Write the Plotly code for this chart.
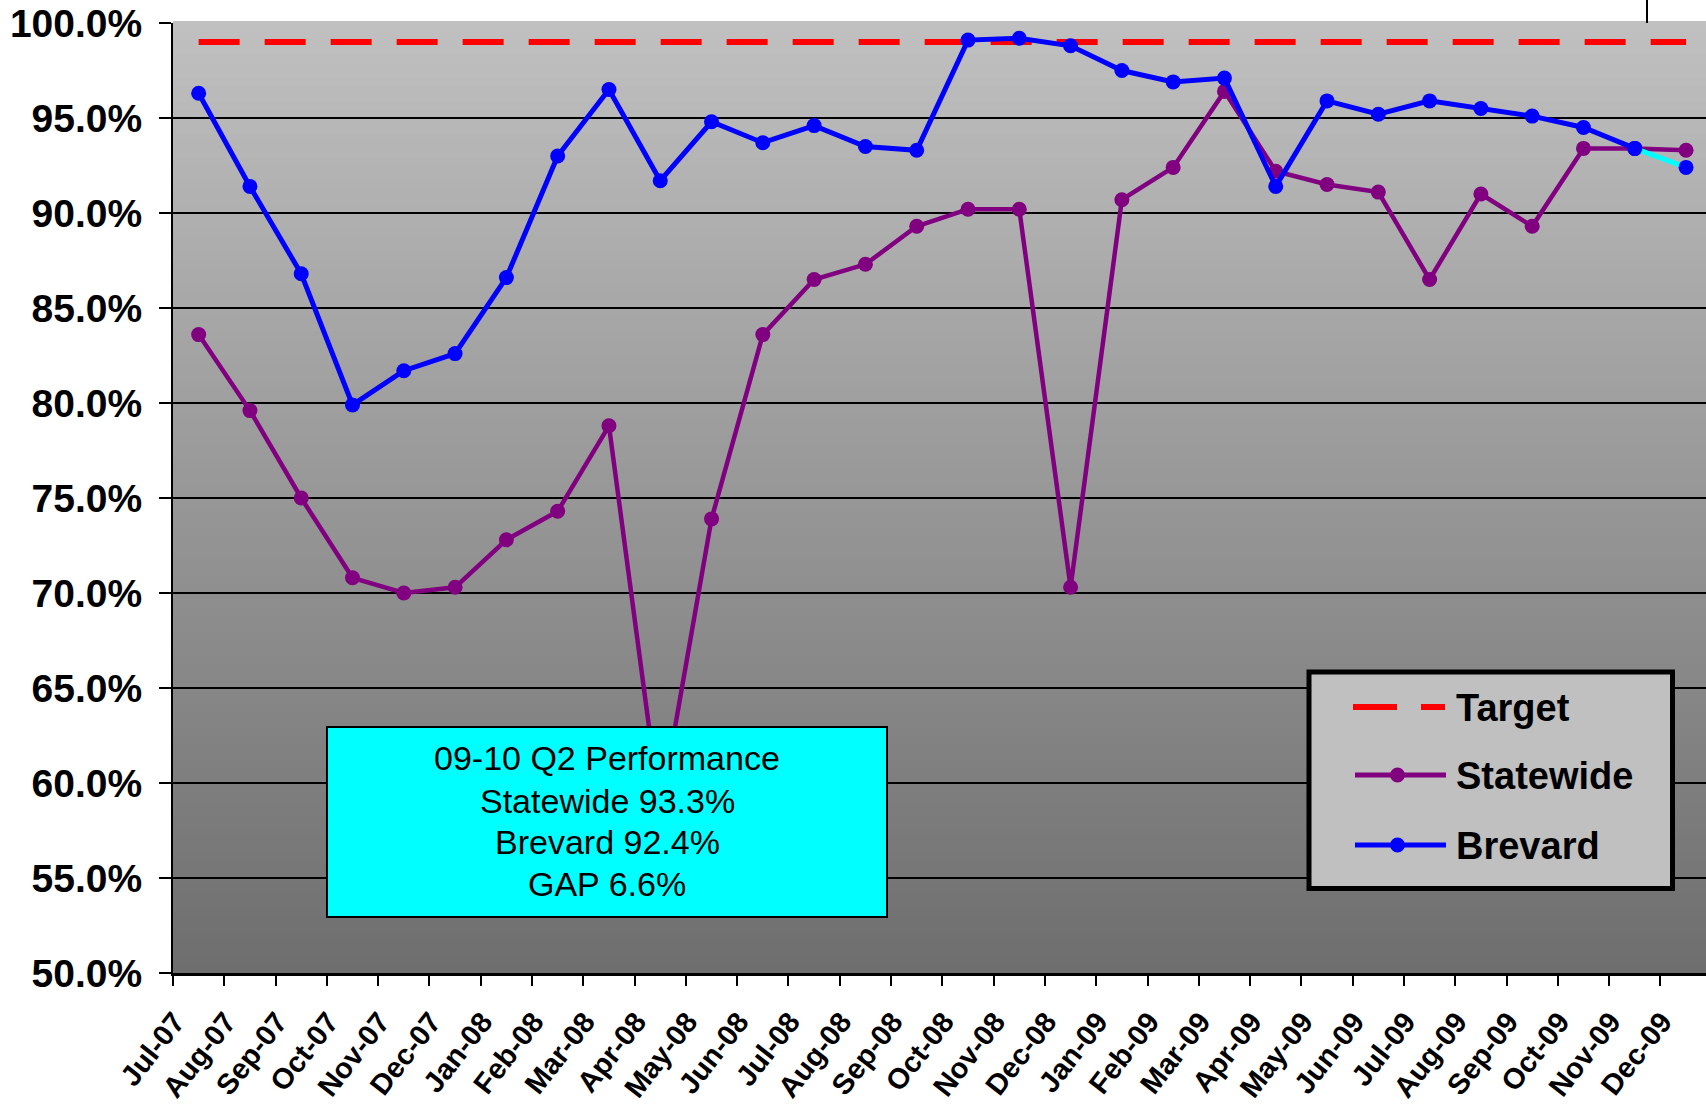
import plotly.graph_objects as go

# Monthly performance, Jul-07 .. Dec-09
months = ["Jul-07", "Aug-07", "Sep-07", "Oct-07", "Nov-07", "Dec-07",
          "Jan-08", "Feb-08", "Mar-08", "Apr-08", "May-08", "Jun-08",
          "Jul-08", "Aug-08", "Sep-08", "Oct-08", "Nov-08", "Dec-08",
          "Jan-09", "Feb-09", "Mar-09", "Apr-09", "May-09", "Jun-09",
          "Jul-09", "Aug-09", "Sep-09", "Oct-09", "Nov-09", "Dec-09"]

statewide = [83.6, 79.6, 75.0, 70.8, 70.0, 70.3, 72.8, 74.3, 78.8, 58.5,
             73.9, 83.6, 86.5, 87.3, 89.3, 90.2, 90.2, 70.3, 90.7, 92.4,
             96.4, 92.2, 91.5, 91.1, 86.5, 91.0, 89.3, 93.4, 93.4, 93.3]

brevard = [96.3, 91.4, 86.8, 79.9, 81.7, 82.6, 86.6, 93.0, 96.5, 91.7,
           94.8, 93.7, 94.6, 93.5, 93.3, 99.1, 99.2, 98.8, 97.5, 96.9,
           97.1, 91.4, 95.9, 95.2, 95.9, 95.5, 95.1, 94.5, 93.4, 92.4]

target = [99.0] * len(months)

summary_lines = ["09-10 Q2 Performance", "Statewide 93.3%",
                 "Brevard 92.4%", "GAP 6.6%"]

legend_names = ["Target", "Statewide", "Brevard"]

y_ticks = [50, 55, 60, 65, 70, 75, 80, 85, 90, 95, 100]

FONT = "Liberation Sans, Arial, sans-serif"
W, H = 1706, 1104
PL, PR, PT, PB = 173, 1706, 23, 973


def px(x):
    return (x - PL) / (PR - PL)


def py(y):
    return (PB - y) / (PB - PT)


fig = go.Figure()

fig.add_trace(go.Scatter(
    x=months, y=target, mode="lines", name="Target",
    line=dict(color="#FF0000", width=6, dash="41px,25px"),
    showlegend=False))

fig.add_trace(go.Scatter(
    x=months, y=statewide, mode="lines+markers", name="Statewide",
    line=dict(color="#800080", width=4.5),
    marker=dict(color="#800080", size=15),
    showlegend=False))

fig.add_trace(go.Scatter(
    x=months[:-1], y=brevard[:-1], mode="lines+markers", name="Brevard",
    line=dict(color="#0000FF", width=5),
    marker=dict(color="#0000FF", size=15),
    showlegend=False))

# latest month segment highlighted
fig.add_trace(go.Scatter(
    x=months[-2:], y=brevard[-2:], mode="lines",
    line=dict(color="#00FFFF", width=5), showlegend=False))
fig.add_trace(go.Scatter(
    x=months[-2:], y=brevard[-2:], mode="markers",
    marker=dict(color="#0000FF", size=15), showlegend=False))

shapes = []

# vertical grey gradient behind the plot
n_bands = 120
top_c, bot_c = 192, 110
for i in range(n_bands):
    f0 = i / n_bands
    f1 = (i + 1) / n_bands
    c = round(top_c + (bot_c - top_c) * (1 - (f0 + f1) / 2))
    shapes.append(dict(type="rect", xref="paper", yref="paper",
                       x0=0, x1=1, y0=f0, y1=f1 + 0.002,
                       fillcolor=f"rgb({c},{c},{c})",
                       line=dict(width=0), layer="below"))

# summary box
shapes.append(dict(type="rect", xref="paper", yref="paper",
                   x0=px(327), x1=px(887), y0=py(917), y1=py(727),
                   fillcolor="#00FFFF", line=dict(color="black", width=2),
                   layer="above"))

# legend box
shapes.append(dict(type="rect", xref="paper", yref="paper",
                   x0=px(1309), x1=px(1672.5), y0=py(888.5), y1=py(672),
                   fillcolor="#C0C0C0", line=dict(color="black", width=5),
                   layer="above"))

# legend keys
leg_y = [707, 775, 845]
shapes.append(dict(type="line", xref="paper", yref="paper",
                   x0=px(1353), x1=px(1397), y0=py(leg_y[0]), y1=py(leg_y[0]),
                   line=dict(color="#FF0000", width=6), layer="above"))
shapes.append(dict(type="line", xref="paper", yref="paper",
                   x0=px(1421), x1=px(1445), y0=py(leg_y[0]), y1=py(leg_y[0]),
                   line=dict(color="#FF0000", width=6), layer="above"))
for yy, col in zip(leg_y[1:], ["#800080", "#0000FF"]):
    shapes.append(dict(type="line", xref="paper", yref="paper",
                       x0=px(1355), x1=px(1446), y0=py(yy), y1=py(yy),
                       line=dict(color=col, width=5), layer="above"))
    shapes.append(dict(type="circle", xref="paper", yref="paper",
                       x0=px(1390), x1=px(1405), y0=py(yy + 7.5), y1=py(yy - 7.5),
                       fillcolor=col, line=dict(color=col, width=0),
                       layer="above"))

# short rule above the plot at the right
shapes.append(dict(type="line", xref="paper", yref="paper",
                   x0=px(1647), x1=px(1647), y0=1, y1=py(0),
                   line=dict(color="black", width=2)))

annotations = []
for txt, yy in zip(summary_lines, [758, 801, 842, 884]):
    annotations.append(dict(text=txt, xref="paper", yref="paper",
                            x=px(607), y=py(yy), xanchor="center",
                            yanchor="middle", showarrow=False,
                            font=dict(family=FONT, size=34, color="black")))
for txt, yy in zip(legend_names, leg_y):
    annotations.append(dict(text=f"<b>{txt}</b>", xref="paper", yref="paper",
                            x=px(1454), y=py(yy + 1), xanchor="left",
                            yanchor="middle", showarrow=False,
                            font=dict(family=FONT, size=38, color="black")))

fig.update_layout(
    width=W, height=H, autosize=False,
    margin=dict(l=PL, r=W - PR, t=PT, b=H - PB, pad=0),
    paper_bgcolor="white", plot_bgcolor="rgba(0,0,0,0)",
    font=dict(family=FONT, color="black"),
    showlegend=False,
    shapes=shapes, annotations=annotations,
    hovermode=False,
)

fig.update_xaxes(
    type="category", categoryorder="array", categoryarray=months,
    range=[-0.5, -0.5 + (PR - PL) / 51.29],
    tickson="boundaries", ticks="outside", ticklen=10, tickwidth=2,
    tickcolor="black", tickangle=-52,
    ticklabelshift=-24, ticklabelstandoff=17,
    tickfont=dict(family=FONT, size=29, color="black", weight="bold"),
    showline=True, linecolor="black", linewidth=3,
    showgrid=False, zeroline=False, automargin=False,
)

fig.update_yaxes(
    range=[50, 100], tickvals=y_ticks,
    ticktext=[f"{v:.1f}%" for v in y_ticks],
    ticks="outside", ticklen=12, tickwidth=2, tickcolor="black",
    ticklabelstandoff=9,
    tickfont=dict(family=FONT, size=39, color="black", weight="bold"),
    showline=True, linecolor="black", linewidth=2,
    showgrid=True, gridcolor="black", gridwidth=2,
    zeroline=False, automargin=False,
)

fig.write_html("out.html")
